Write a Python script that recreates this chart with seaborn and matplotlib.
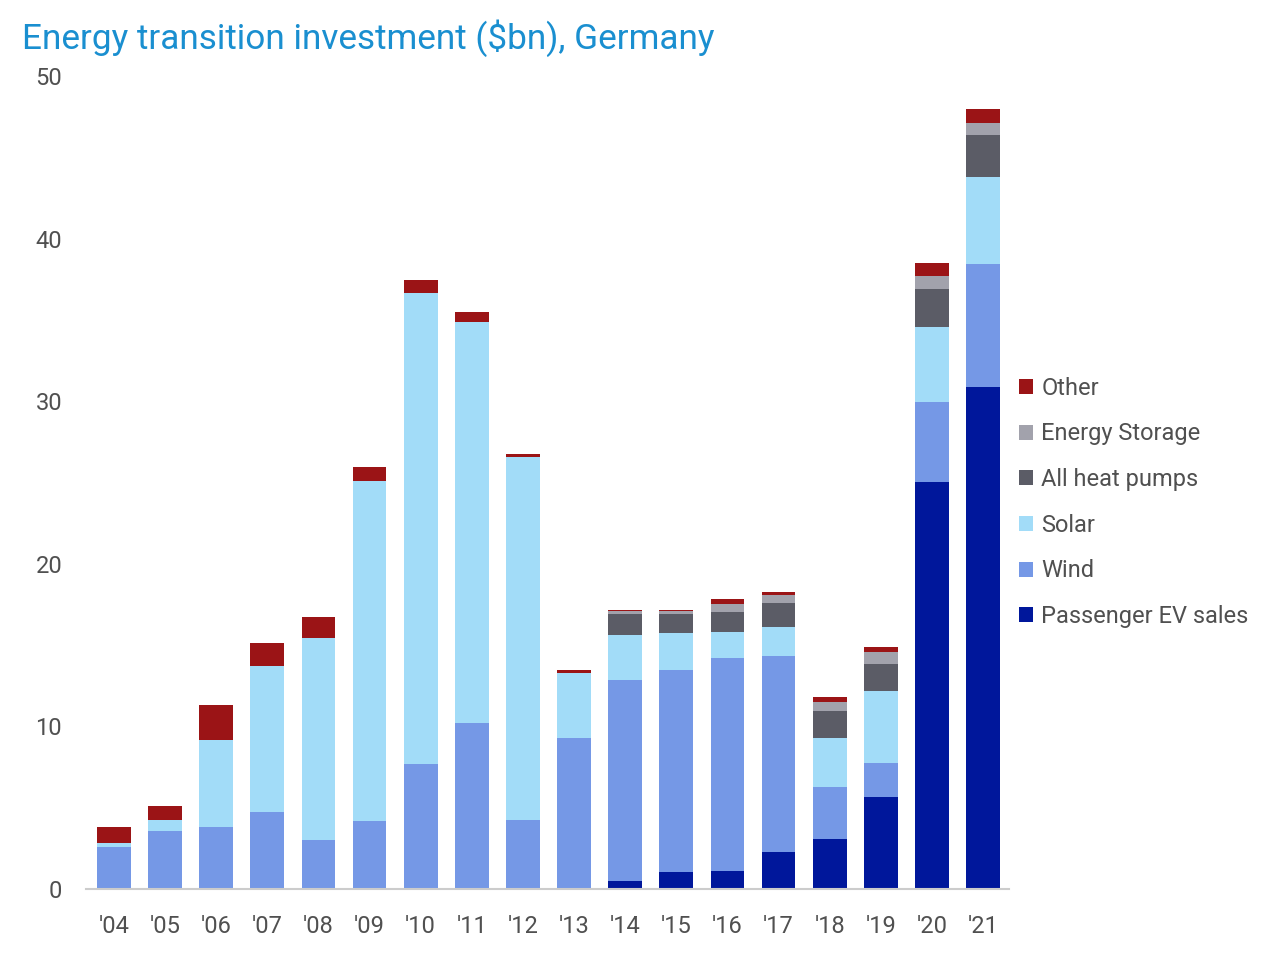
import matplotlib

matplotlib.use("Agg")
import matplotlib.pyplot as plt
import numpy as np
import pandas as pd
import seaborn as sns
from matplotlib.patches import Patch

YEARS = ["'04", "'05", "'06", "'07", "'08", "'09", "'10", "'11", "'12",
         "'13", "'14", "'15", "'16", "'17", "'18", "'19", "'20", "'21"]
EV = [0, 0, 0, 0, 0, 0, 0, 0, 0, 0, 0.51, 1.03, 1.11, 2.26, 3.08, 5.68, 25.03, 30.89]
WIND = [2.58, 3.54, 3.79, 4.75, 3.01, 4.16, 7.71, 10.19, 4.24, 9.30,
        12.34, 12.44, 13.08, 12.07, 3.21, 2.09, 4.94, 7.55]
SOLAR = [0.22, 0.70, 5.39, 8.98, 12.40, 20.95, 28.93, 24.70, 22.31, 3.96,
         2.75, 2.27, 1.62, 1.80, 3.00, 4.39, 4.57, 5.33]
HEAT_PUMPS = [0, 0, 0, 0, 0, 0, 0, 0, 0, 0, 1.31, 1.15, 1.24, 1.46, 1.66, 1.66, 2.34, 2.60]
STORAGE = [0, 0, 0, 0, 0, 0, 0, 0, 0, 0, 0.17, 0.22, 0.50, 0.47, 0.55, 0.78, 0.84, 0.72]
OTHER = [1.00, 0.86, 2.11, 1.40, 1.29, 0.82, 0.81, 0.60, 0.18, 0.23,
         0.05, 0.05, 0.25, 0.22, 0.33, 0.27, 0.80, 0.90]

# bottom to top
SERIES = [
    ("Passenger EV sales", EV, "#00179b"),
    ("Wind", WIND, "#7598e6"),
    ("Solar", SOLAR, "#a2dcf8"),
    ("All heat pumps", HEAT_PUMPS, "#5b5c66"),
    ("Energy Storage", STORAGE, "#a2a2ac"),
    ("Other", OTHER, "#9b1416"),
]

sns.set_theme(style="white")
plt.rcParams["font.family"] = ["Roboto", "DejaVu Sans"]

df = pd.DataFrame({name: vals for name, vals, _ in SERIES}, index=YEARS)
cum = df.cumsum(axis=1)

fig = plt.figure(figsize=(12.8, 9.61), dpi=100)
ax = fig.add_axes([0.067, 0.075, 0.721, 0.846])

# draw cumulative totals from the top layer down so each layer covers the next
for name, _, color in reversed(SERIES):
    sns.barplot(x=cum.index, y=cum[name].values, color=color, saturation=1,
                width=0.66, linewidth=0, ax=ax)

ax.set_ylim(0, 50)
ax.set_xlim(-0.55, 17.5)
ax.set_yticks([0, 10, 20, 30, 40, 50])
ax.set_xlabel("")
ax.set_ylabel("")
for side in ["top", "right", "left"]:
    ax.spines[side].set_visible(False)
ax.spines["bottom"].set_color("#cccccc")
ax.spines["bottom"].set_linewidth(1.5)
ax.tick_params(axis="y", length=0, pad=17, labelsize=17, labelcolor="#505050")
ax.tick_params(axis="x", length=0, pad=19, labelsize=17, labelcolor="#505050")

fig.text(0.017, 0.960, "Energy transition investment ($bn), Germany",
         fontsize=25.3, color="#1a8fd0", va="center", ha="left")

handles = [Patch(facecolor=c, edgecolor="none", label=n) for n, _, c in reversed(SERIES)]
fig.legend(handles=handles, loc="upper left", bbox_to_anchor=(0.796, 0.608),
           frameon=False, fontsize=17, labelcolor="#505050",
           handlelength=0.6, handleheight=0.6, handletextpad=0.35,
           labelspacing=0.96, borderaxespad=0, borderpad=0)

fig.savefig("out.png", dpi=100)
